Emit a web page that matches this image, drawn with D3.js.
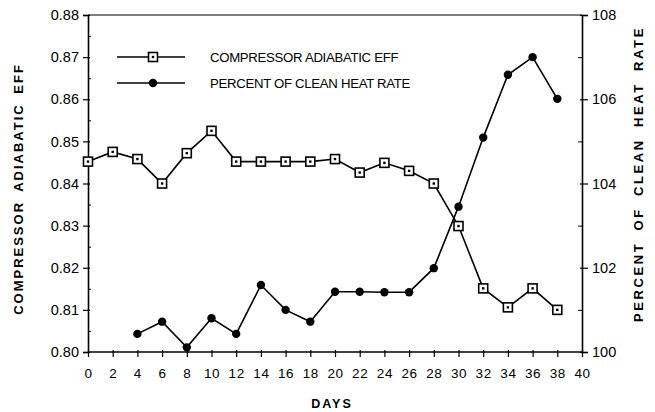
<!DOCTYPE html>
<html>
<head>
<meta charset="utf-8">
<script src="https://cdn.jsdelivr.net/npm/d3@7"></script>
<style>
  body { margin: 0; background: #fff; }
  svg { display: block; }
  text { font-family: "Liberation Sans", Arial, sans-serif; fill: #000; }
</style>
</head>
<body>
<svg width="655" height="412"></svg>
<script>
const days = [0, 2, 4, 6, 8, 10, 12, 14, 16, 18, 20, 22, 24, 26, 28, 30, 32, 34, 36, 38];
const effValues = [0.8452, 0.8475, 0.8458, 0.8400, 0.8472, 0.8525, 0.8452, 0.8452, 0.8452, 0.8452,
    0.8458, 0.8426, 0.8449, 0.8430, 0.8400, 0.8299, 0.8151, 0.8106, 0.8151, 0.8100];
const heatDays = [4, 6, 8, 10, 12, 14, 16, 18, 20, 22, 24, 26, 28, 30, 32, 34, 36, 38];
const heatValues = [100.43, 100.72, 100.11, 100.80, 100.43, 101.59, 101.0, 100.72, 101.43, 101.43,
    101.42, 101.42, 101.99, 103.45, 105.09, 106.58, 107.0, 106.01];
const xTicks = d3.range(0, 41, 2);
const leftTicks = [0.80, 0.81, 0.82, 0.83, 0.84, 0.85, 0.86, 0.87, 0.88];
const rightTicks = [100, 102, 104, 106, 108];
const legendLabels = ["COMPRESSOR ADIABATIC EFF", "PERCENT OF CLEAN HEAT RATE"];

const svg = d3.select("svg");
const pl = 88, pr = 582, pt = 15, pb = 352;

const x = d3.scaleLinear().domain([0, 40]).range([pl, pr]);
const yL = d3.scaleLinear().domain([0.80, 0.88]).range([pb, pt]);
const yR = d3.scaleLinear().domain([100, 108]).range([pb, pt]);

// frame top line
svg.append("line").attr("x1", pl).attr("x2", pr).attr("y1", pt).attr("y2", pt)
    .attr("stroke", "#000").attr("stroke-width", 1.2);

// left axis
const gL = svg.append("g").attr("transform", `translate(${pl},0)`)
    .call(d3.axisLeft(yL).tickValues(leftTicks).tickFormat(d3.format(".2f")).tickSize(5).tickPadding(4));
gL.selectAll(".tick line").attr("x2", -5).attr("x1", 2);
svg.append("g").attr("transform", `translate(${pl},0)`)
    .call(d3.axisLeft(yL).tickValues(d3.range(0.805, 0.88, 0.01)).tickFormat("").tickSize(-3))
    .call(g => g.select(".domain").remove());

// right axis
const gR = svg.append("g").attr("transform", `translate(${pr},0)`)
    .call(d3.axisRight(yR).tickValues(rightTicks).tickSize(6).tickPadding(4));
gR.selectAll(".tick line").attr("x1", -2);
svg.append("g").attr("transform", `translate(${pr},0)`)
    .call(d3.axisRight(yR).tickValues([101, 103, 105, 107]).tickFormat("").tickSize(-4))
    .call(g => g.select(".domain").remove());

// bottom axis
const gB = svg.append("g").attr("transform", `translate(0,${pb})`)
    .call(d3.axisBottom(x).tickValues(xTicks).tickSize(5).tickPadding(11));
gB.selectAll(".tick line").attr("y1", -2);

[gL, gR, gB].forEach(g => {
  g.select(".domain").attr("stroke-width", 1.6);
  g.selectAll(".tick line").attr("stroke-width", 1.2);
  g.selectAll("text").style("font-family", "Liberation Sans, Arial, sans-serif");
});
gL.selectAll("text").style("font-size", "14.5px");
gR.selectAll("text").style("font-size", "14.5px");
gB.selectAll("text").style("font-size", "13.5px").style("letter-spacing", "0.6px");
gB.selectAll(".domain").attr("d", `M${pl},0H${pr}`);

// axis titles
svg.append("text").attr("transform", `translate(23,189) rotate(-90)`)
    .attr("text-anchor", "middle").style("font-size", "13px").style("font-weight", "bold")
    .style("letter-spacing", "2px").style("word-spacing", "4px").text("COMPRESSOR ADIABATIC EFF");
svg.append("text").attr("transform", `translate(643,174) rotate(-90)`)
    .attr("text-anchor", "middle").style("font-size", "13px").style("font-weight", "bold")
    .style("letter-spacing", "2.6px").style("word-spacing", "5px").text("PERCENT OF CLEAN HEAT RATE");
svg.append("text").attr("x", 332).attr("y", 408).attr("text-anchor", "middle")
    .style("font-size", "12.5px").style("font-weight", "bold").style("letter-spacing", "2px").text("DAYS");

// series lines
const effData = days.map((d, i) => [d, effValues[i]]);
const heatData = heatDays.map((d, i) => [d, heatValues[i]]);

svg.append("path").datum(effData)
    .attr("d", d3.line().x(d => x(d[0])).y(d => yL(d[1])))
    .attr("fill", "none").attr("stroke", "#000").attr("stroke-width", 1.6);
svg.append("path").datum(heatData)
    .attr("d", d3.line().x(d => x(d[0])).y(d => yR(d[1])))
    .attr("fill", "none").attr("stroke", "#000").attr("stroke-width", 1.6);

const drawSquare = (g, cx, cy) => {
  g.append("rect").attr("x", cx - 4.5).attr("y", cy - 4.5).attr("width", 9).attr("height", 9)
      .attr("fill", "#fff").attr("stroke", "#000").attr("stroke-width", 1.6);
  g.append("rect").attr("x", cx - 1.2).attr("y", cy - 1.2).attr("width", 2.4).attr("height", 2.4)
      .attr("fill", "#000");
};
const drawDot = (g, cx, cy) => {
  g.append("circle").attr("cx", cx).attr("cy", cy).attr("r", 4.2).attr("fill", "#000");
};

const marks = svg.append("g");
effData.forEach(d => drawSquare(marks, x(d[0]), yL(d[1])));
heatData.forEach(d => drawDot(marks, x(d[0]), yR(d[1])));

// legend
const legend = svg.append("g");
const rows = [57, 83];
rows.forEach((ly, i) => {
  legend.append("line").attr("x1", 117).attr("x2", 185).attr("y1", ly).attr("y2", ly)
      .attr("stroke", "#000").attr("stroke-width", 1.6);
  if (i === 0) drawSquare(legend, 153, ly); else drawDot(legend, 153, ly);
  legend.append("text").attr("x", 210).attr("y", ly + 5)
      .style("font-size", "13.2px").style("letter-spacing", "-0.3px").text(legendLabels[i]);
});
</script>
</body>
</html>
